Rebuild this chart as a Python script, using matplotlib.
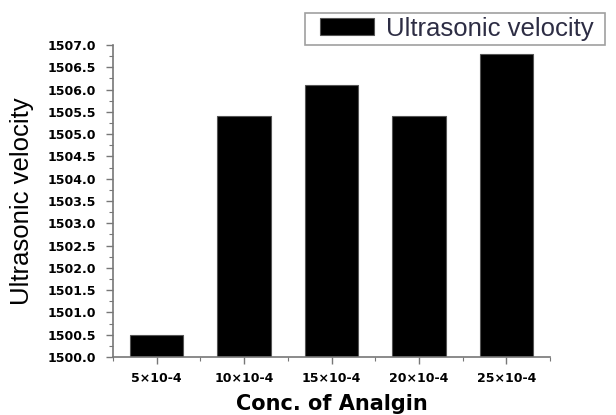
import matplotlib
matplotlib.use("Agg")
import matplotlib.pyplot as plt
from matplotlib.ticker import MultipleLocator, FixedLocator
from matplotlib.legend_handler import HandlerPatch
from matplotlib.patches import Rectangle

categories = ["5×10-4", "10×10-4", "15×10-4", "20×10-4", "25×10-4"]
velocity = [1500.5, 1505.4, 1506.1, 1505.4, 1506.8]
series_name = "Ultrasonic velocity"

fig = plt.figure(figsize=(6.16, 4.15), dpi=100)
ax = fig.add_axes([0.1834, 0.1398, 0.7095, 0.7518])

x = list(range(len(categories)))
bars = ax.bar(x, velocity, width=0.61, color="black", edgecolor="#555555",
              linewidth=0.8, bottom=0)

ax.set_xlim(-0.5, len(categories) - 0.5)
ax.set_ylim(1500.0, 1507.0)

ax.spines["top"].set_visible(False)
ax.spines["right"].set_visible(False)
for s in ("left", "bottom"):
    ax.spines[s].set_color("#777777")
    ax.spines[s].set_linewidth(1.2)

ax.set_xticks(x)
ax.set_xticklabels(categories)
ax.xaxis.set_minor_locator(FixedLocator([i + 0.5 for i in range(-1, len(categories))]))
ax.yaxis.set_major_locator(MultipleLocator(0.5))
ax.yaxis.set_minor_locator(MultipleLocator(0.25))
ax.yaxis.set_major_formatter(matplotlib.ticker.FormatStrFormatter("%.1f"))

ax.tick_params(axis="both", which="major", direction="out", length=5, width=1,
               color="#777777", labelsize=9)
ax.tick_params(axis="both", which="minor", direction="out", length=3, width=0.8,
               color="#777777")
ax.tick_params(axis="x", which="major", pad=6)
ax.tick_params(axis="y", which="major", pad=7)
for lbl in ax.get_xticklabels() + ax.get_yticklabels():
    lbl.set_fontfamily("DejaVu Sans")
    lbl.set_fontweight("bold")

ax.set_xlabel("Conc. of Analgin", fontsize=15, fontweight="bold",
              family="DejaVu Sans", labelpad=6)
ax.set_ylabel("Ultrasonic velocity", fontsize=18.5, family="Liberation Sans",
              labelpad=10)


def inset_patch(legend, orig_handle, xdescent, ydescent, width, height, fontsize):
    shift = 8
    return Rectangle((-xdescent + shift, -ydescent), width - shift, height)


leg = ax.legend(handles=[bars.patches[0]], labels=[series_name + " "],
                loc="upper right", bbox_to_anchor=(1.126, 1.103), frameon=True,
                fancybox=False, prop={"family": "Liberation Sans", "size": 18.5},
                handlelength=2.53, handleheight=0.65, borderpad=0.15,
                handletextpad=0.5, borderaxespad=0,
                handler_map={Rectangle: HandlerPatch(patch_func=inset_patch)})
leg.get_frame().set_edgecolor("#888888")
leg.get_frame().set_linewidth(1.2)
for t in leg.get_texts():
    t.set_color("#2d2d44")

fig.savefig("out.png", dpi=100)
